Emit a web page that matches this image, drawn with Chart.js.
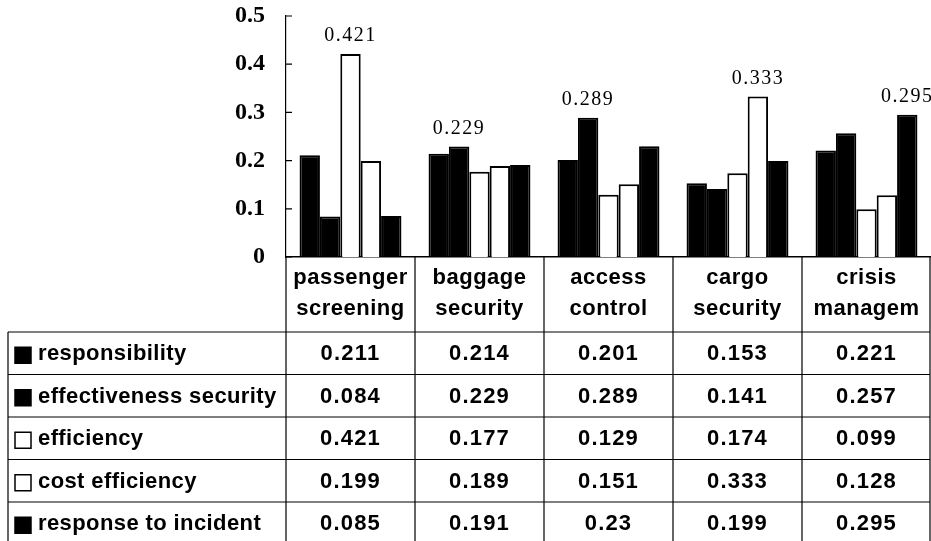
<!DOCTYPE html>
<html>
<head>
<meta charset="utf-8">
<script src="https://cdn.jsdelivr.net/npm/chart.js@4/dist/chart.umd.min.js"></script>
<style>
  body { margin: 0; background: #fff; }
  #wrap { width: 931px; height: 541px; }
</style>
</head>
<body>
<div id="wrap"><canvas id="chart"></canvas></div>
<script>
// categories et series
const categories = [['passenger', 'screening'], ['baggage', 'security'], ['access', 'control'], ['cargo', 'security'], ['crisis', 'managem']];
const seriesNames = ['responsibility', 'effectiveness security', 'efficiency', 'cost efficiency', 'response to incident'];
const responsibility = [0.211, 0.214, 0.201, 0.153, 0.221];
const effectiveness = [0.084, 0.229, 0.289, 0.141, 0.257];
const efficiency = [0.421, 0.177, 0.129, 0.174, 0.099];
const costEfficiency = [0.199, 0.189, 0.151, 0.333, 0.128];
const responseIncident = [0.085, 0.191, 0.23, 0.199, 0.295];
const yTicks = [0, 0.1, 0.2, 0.3, 0.4, 0.5];

const seriesValues = [responsibility, effectiveness, efficiency, costEfficiency, responseIncident];
const fills = ['#000', '#000', '#fff', '#fff', '#000'];

const TABLE_FONT = 'bold 22px "Liberation Sans", Arial, sans-serif';

// Tableau de donnees sous le graphique
const tablePlugin = {
    id: 'dataTable',
    afterDraw(chart) {
        const ctx = chart.ctx;
        const x = chart.scales.x;
        const top = chart.chartArea.bottom;
        const n = categories.length;
        const w = (x.right - x.left) / n;
        const headerBottom = 332;
        const rowH = 42.5;
        const leftEdge = 8;
        const rightEdge = 930;
        const bottom = chart.height + 5;

        ctx.save();
        ctx.strokeStyle = '#000';
        ctx.lineWidth = 1.2;
        ctx.beginPath();
        // lignes verticales
        for (let i = 0; i <= n; i++) {
            const px = Math.min(x.left + i * w, rightEdge);
            ctx.moveTo(px, top);
            ctx.lineTo(px, bottom);
        }
        ctx.moveTo(leftEdge, headerBottom);
        ctx.lineTo(leftEdge, bottom);
        // lignes horizontales
        for (let r = 0; r < seriesNames.length; r++) {
            const py = headerBottom + r * rowH;
            ctx.moveTo(leftEdge, py);
            ctx.lineTo(rightEdge, py);
        }
        ctx.stroke();

        ctx.fillStyle = '#000';
        ctx.font = TABLE_FONT;
        ctx.letterSpacing = '0.5px';
        ctx.textAlign = 'center';
        ctx.textBaseline = 'middle';
        // en-tetes
        categories.forEach((lines, i) => {
            const cx = x.getPixelForValue(i);
            ctx.fillText(lines[0], cx, 278);
            ctx.fillText(lines[1], cx, 309);
        });
        // lignes de valeurs
        seriesNames.forEach((name, r) => {
            const cy = headerBottom + r * rowH + rowH / 2 + 1;
            ctx.textAlign = 'left';
            ctx.letterSpacing = '0.4px';
            ctx.fillStyle = fills[r];
            ctx.fillRect(15, cy - 7, 16, 16);
            ctx.lineWidth = 1.5;
            ctx.strokeRect(15, cy - 7, 16, 16);
            ctx.fillStyle = '#000';
            ctx.fillText(name, 38, cy);
            ctx.textAlign = 'center';
            ctx.letterSpacing = '1.2px';
            seriesValues[r].forEach((v, i) => {
                ctx.fillText(String(v), x.getPixelForValue(i), cy);
            });
        });
        ctx.restore();
    }
};

// Etiquette de la valeur max de chaque categorie + graduations interieures
const labelPlugin = {
    id: 'maxLabels',
    afterDatasetsDraw(chart) {
        const ctx = chart.ctx;
        ctx.save();
        ctx.font = '20px "Liberation Serif", "Times New Roman", serif';
        ctx.letterSpacing = '1.5px';
        ctx.fillStyle = '#000';
        ctx.textAlign = 'center';
        ctx.textBaseline = 'bottom';
        categories.forEach((c, i) => {
            let best = 0;
            seriesValues.forEach((s, d) => { if (s[i] > seriesValues[best][i]) best = d; });
            const bar = chart.getDatasetMeta(best).data[i];
            ctx.fillText(String(seriesValues[best][i]), bar.x, bar.y - 8);
        });
        const y = chart.scales.y;
        ctx.strokeStyle = '#000';
        ctx.lineWidth = 1.2;
        ctx.beginPath();
        yTicks.forEach(t => {
            const py = y.getPixelForValue(t);
            ctx.moveTo(chart.chartArea.left, py);
            ctx.lineTo(chart.chartArea.left + 6, py);
        });
        ctx.stroke();
        ctx.restore();
    }
};

new Chart(document.getElementById('chart'), {
    type: 'bar',
    data: {
        labels: categories.map(c => c.join(' ')),
        datasets: seriesNames.map((name, d) => ({
            label: name,
            data: seriesValues[d],
            backgroundColor: fills[d],
            borderColor: '#000',
            borderWidth: 2,
            categoryPercentage: 0.79,
            barPercentage: 1
        }))
    },
    options: {
        responsive: true,
        maintainAspectRatio: false,
        animation: false,
        layout: { padding: { top: 16, right: 0, left: 0, bottom: 0 } },
        plugins: {
            legend: { display: false },
            tooltip: { enabled: false }
        },
        scales: {
            x: {
                grid: { display: false },
                border: { display: true, color: '#000', width: 1.5 },
                ticks: { display: false },
                afterFit(scale) { scale.height = 284; }
            },
            y: {
                min: 0,
                max: 0.5,
                grid: { display: false, drawTicks: false },
                border: { display: true, color: '#000', width: 1.2 },
                ticks: {
                    stepSize: 0.1,
                    padding: 21,
                    color: '#000',
                    font: { family: '"Liberation Serif", "Times New Roman", serif', size: 24, weight: 'bold' }
                },
                afterFit(scale) {
                    scale.width = 286;
                    scale.paddingTop = 0;
                    scale.paddingBottom = 0;
                }
            }
        }
    },
    plugins: [tablePlugin, labelPlugin]
});
</script>
</body>
</html>
